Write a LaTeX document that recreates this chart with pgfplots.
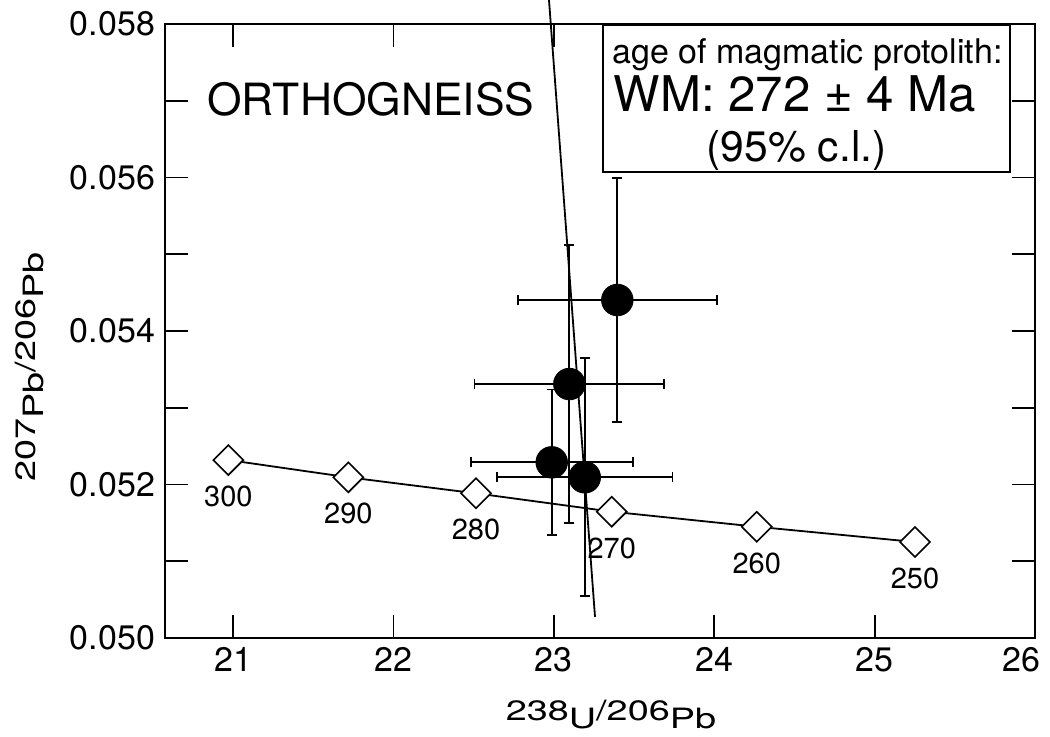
\documentclass[border=0pt]{standalone}
\usepackage{fontspec}
\setmainfont{TeX Gyre Heros}
\usepackage{pgfplots}
\pgfplotsset{compat=1.18}
\usepackage{pgfplotstable}

% zircon spots: x, y, 2s errors
\pgfplotstableread{
x      y        ex     ey
23.396 0.054404 0.619  0.00159
23.097 0.053309 0.592  0.00181
22.987 0.052289 0.505  0.00095
23.193 0.052094 0.547  0.00155
}\zircon

% concordia ticks (Ma)
\pgfplotstableread{
x      y        age
20.971 0.052319 300
21.719 0.052094 290
22.515 0.051885 280
23.361 0.051646 270
24.265 0.051450 260
25.252 0.051251 250
}\concordia

\newcommand\lo[1]{\raisebox{-4pt}{#1}}

\begin{document}
\begin{tikzpicture}
\path[use as bounding box] (-82.5pt,-49pt) rectangle (442.5pt,319pt);
\begin{axis}[
  scale only axis, width=435pt, height=307pt,
  xmin=20.576, xmax=26, ymin=0.050, ymax=0.058,
  xtick={21,22,23,24,25,26},
  xticklabels={21,22,23,24,25,\hspace*{-14pt}26},
  ytick={0.050,0.052,0.054,0.056,0.058},
  minor ytick={0.051,0.053,0.055,0.057},
  tick align=inside,
  major tick length=11.5pt, minor tick length=11.5pt,
  scaled y ticks=false,
  /pgf/number format/assume math mode=true,
  tick label style={font=\fontsize{17}{20}\selectfont},
  xticklabel style={yshift=-1.3pt},
  yticklabel style={/pgf/number format/fixed, /pgf/number format/fixed zerofill,
    /pgf/number format/precision=3, xshift=-1.5pt},
  axis line style={line width=1.1pt},
  tick style={line width=0.9pt, black},
  minor tick style={line width=0.9pt, black},
  xlabel={\scalebox{1.35}[1]{238\lo{U}/206\lo{Pb}}},
  ylabel={\scalebox{1.35}[1]{207\lo{Pb}/206\lo{Pb}}},
  xlabel style={at={(axis description cs:0.5126,-0.1336)}, anchor=base, font=\fontsize{14}{16}\selectfont},
  ylabel style={at={(axis description cs:-0.1494,0.441)}, anchor=base, font=\fontsize{14}{16}\selectfont},
  clip=false,
]
  \addplot[black, line width=0.9pt] coordinates {(22.970,0.058313) (23.257,0.050274)};

  \addplot[black, line width=0.9pt, mark=square*, mark size=5.3pt,
    mark options={rotate=45, fill=white, draw=black, line width=0.8pt},
    nodes near coords, point meta=explicit symbolic,
    nodes near coords style={anchor=north, inner sep=0pt, yshift=-12.5pt,
      font=\fontsize{14.5}{16}\selectfont}]
    table[x=x, y=y, meta=age] {\concordia};

  \addplot[only marks, black, mark=*, mark size=7.9pt,
    error bars/.cd, x dir=both, x explicit, y dir=both, y explicit,
    error bar style={line width=0.9pt, black},
    error mark options={rotate=90, mark size=2.5pt, line width=0.9pt, black}]
    table[x=x, y=y, x error=ex, y error=ey] {\zircon};

  \node[anchor=base west, inner sep=0pt, font=\fontsize{22.2}{26}\selectfont]
    at (axis cs:20.838,0.056814) {ORTHOGNEISS};

  \draw[line width=1pt, fill=white] (axis cs:23.307,0.057987) rectangle (axis cs:25.844,0.056072);
  \node[anchor=base west, inner sep=0pt, font=\fontsize{17}{20}\selectfont]
    at (axis cs:23.363,0.057492) {age of magmatic protolith:};
  \node[anchor=base west, inner sep=0pt, font=\fontsize{24.6}{28}\selectfont]
    at (axis cs:23.371,0.056858) {WM: 272 ± 4 Ma};
  \node[anchor=base, inner sep=0pt, font=\fontsize{21.3}{24}\selectfont]
    at (axis cs:24.514,0.056206) {(95\% c.l.)};
\end{axis}
\end{tikzpicture}
\end{document}
